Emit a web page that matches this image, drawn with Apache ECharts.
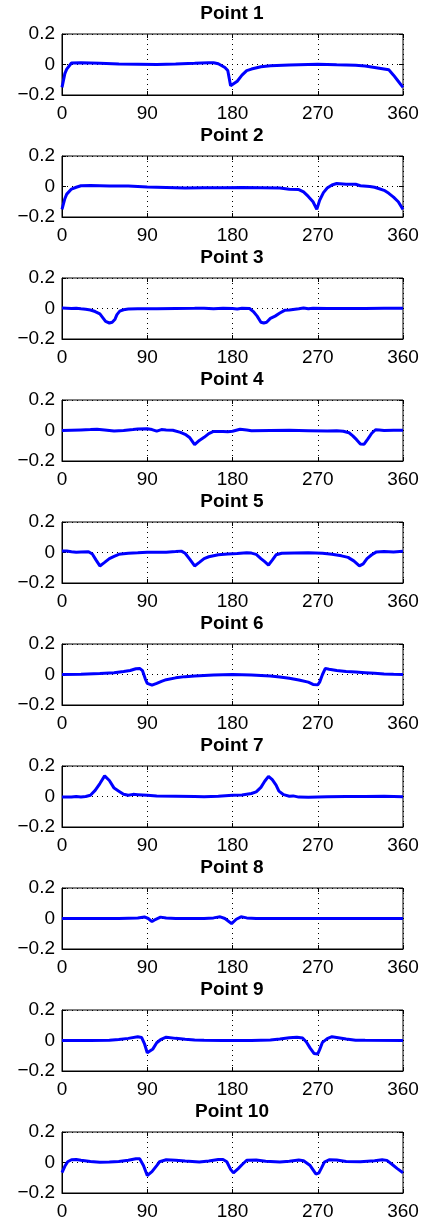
<!DOCTYPE html>
<html lang="en">
<head>
    <meta charset="UTF-8">
    <title>Point 1 - Point 10</title>
    <script src="https://cdn.jsdelivr.net/npm/echarts@6.0.0/dist/echarts.min.js"></script>
    <style>
        html, body { margin: 0; padding: 0; background: #fff; }
    </style>
</head>
<body>
<div id="main" style="width: 426px; height: 1222px;"></div>
<script>
    // [angle in degrees, value]
    var p1 = [[0,-0.15],[3,-0.06],[5,-0.03],[10,0.01],[20,0.012],[40,0.008],[60,0.003],[80,0.002],[100,0],[120,0.003],[140,0.008],[155,0.012],[160,0.012],[165,0.005],[172,-0.02],[175,-0.04],[178,-0.14],[180,-0.15],[185,-0.11],[190,-0.07],[195,-0.04],[200,-0.03],[210,-0.015],[220,-0.008],[240,-0.004],[260,0],[270,0.002],[290,-0.002],[310,-0.005],[320,-0.01],[330,-0.02],[340,-0.03],[345,-0.035],[350,-0.07],[355,-0.11],[360,-0.15]];
    var p2 = [[0,-0.15],[3,-0.08],[5,-0.05],[10,-0.017],[15,-0.005],[20,0.005],[30,0.007],[50,0.004],[70,0.003],[90,-0.003],[110,-0.006],[130,-0.01],[150,-0.008],[170,-0.008],[190,-0.006],[210,-0.008],[230,-0.01],[240,-0.018],[250,-0.02],[255,-0.035],[260,-0.065],[265,-0.1],[269,-0.15],[272,-0.09],[276,-0.04],[280,-0.01],[285,0.01],[290,0.02],[300,0.015],[310,0.015],[315,0.005],[325,0],[330,-0.005],[335,-0.015],[340,-0.025],[345,-0.045],[350,-0.07],[355,-0.1],[360,-0.15]];
    var p3 = [[0,0.003],[10,0],[15,0.002],[20,-0.002],[25,-0.005],[30,-0.01],[35,-0.02],[40,-0.035],[43,-0.06],[46,-0.085],[50,-0.095],[53,-0.09],[56,-0.07],[58,-0.04],[61,-0.017],[65,-0.008],[70,-0.004],[80,-0.002],[100,-0.001],[120,0],[140,0.001],[150,0.002],[160,-0.002],[170,0.002],[180,0],[185,-0.003],[190,0.002],[198,0],[202,-0.02],[206,-0.05],[210,-0.09],[213,-0.095],[216,-0.09],[220,-0.065],[225,-0.05],[230,-0.03],[235,-0.012],[240,-0.01],[250,-0.002],[255,0.003],[260,-0.002],[265,0.002],[280,0],[300,0],[320,0],[340,0.001],[360,0.002]];
    var p4 = [[0,0],[10,0.002],[20,0.004],[30,0.006],[37,0.008],[45,0.004],[55,-0.004],[65,0],[75,0.006],[80,0.01],[90,0.012],[95,0.006],[100,-0.004],[105,0.006],[110,0.004],[117,0.002],[125,-0.012],[130,-0.025],[135,-0.048],[140,-0.093],[145,-0.065],[150,-0.045],[155,-0.02],[160,-0.006],[170,-0.006],[175,-0.008],[180,-0.005],[188,0.008],[195,0.003],[200,-0.001],[220,0],[240,0.001],[260,-0.001],[280,-0.004],[290,-0.002],[297,-0.005],[303,-0.015],[307,-0.035],[311,-0.06],[315,-0.088],[319,-0.09],[323,-0.055],[327,-0.018],[331,0.005],[335,0.003],[340,0],[350,0.001],[360,0.002]];
    var p5 = [[0,0.01],[5,0.01],[10,0.005],[15,0.002],[20,0.004],[28,0.005],[32,-0.01],[36,-0.05],[40,-0.088],[45,-0.065],[50,-0.04],[55,-0.025],[60,-0.012],[70,-0.005],[80,-0.002],[90,0.002],[100,0.001],[110,0.002],[120,0.006],[126,0.009],[130,-0.005],[135,-0.045],[140,-0.088],[145,-0.065],[150,-0.04],[155,-0.028],[165,-0.015],[175,-0.01],[185,-0.007],[195,-0.002],[200,-0.004],[205,-0.012],[210,-0.04],[214,-0.06],[218,-0.082],[222,-0.05],[226,-0.015],[232,-0.005],[245,-0.003],[260,-0.002],[275,-0.005],[285,-0.012],[295,-0.022],[302,-0.032],[308,-0.055],[314,-0.088],[318,-0.075],[322,-0.04],[327,-0.015],[332,0.004],[340,0.006],[350,0.004],[360,0.008]];
    var p6 = [[0,0],[20,0.002],[40,0.006],[55,0.012],[65,0.02],[72,0.026],[78,0.038],[82,0.04],[85,0.025],[88,-0.03],[90,-0.058],[95,-0.07],[100,-0.058],[105,-0.045],[110,-0.034],[120,-0.022],[130,-0.014],[140,-0.01],[150,-0.006],[160,-0.003],[170,-0.001],[180,0],[190,-0.001],[200,-0.003],[210,-0.006],[220,-0.01],[230,-0.016],[240,-0.024],[250,-0.036],[260,-0.05],[265,-0.065],[270,-0.068],[272,-0.05],[275,0],[278,0.04],[282,0.035],[290,0.026],[300,0.02],[310,0.016],[320,0.012],[330,0.008],[340,0.004],[350,0.001],[360,0]];
    var p7 = [[0,-0.004],[10,-0.004],[15,0],[20,-0.003],[25,0],[30,0.008],[35,0.04],[40,0.085],[45,0.135],[50,0.105],[55,0.055],[60,0.035],[65,0.015],[70,0.008],[75,0.014],[80,0.012],[90,0.008],[100,0.004],[120,0.002],[140,0],[150,-0.002],[165,0.002],[180,0.008],[190,0.01],[200,0.02],[205,0.03],[210,0.06],[214,0.1],[218,0.132],[222,0.11],[226,0.075],[229,0.035],[234,0.012],[240,0.002],[244,0.004],[250,-0.004],[260,-0.005],[280,-0.002],[300,0],[320,0],[340,0.001],[360,-0.002]];
    var p8 = [[0,0],[60,0],[80,0.004],[87,0.01],[91,0],[95,-0.02],[99,-0.005],[104,0.009],[110,0.004],[120,0],[150,0],[160,0.004],[167,0.011],[172,0],[179,-0.034],[184,-0.005],[189,0.011],[195,0.004],[205,0],[360,0]];
    var p9 = [[0,0],[30,0],[50,0.001],[60,0.006],[70,0.014],[80,0.024],[84,0.02],[87,-0.02],[90,-0.08],[92,-0.088],[96,-0.055],[100,-0.015],[104,0.005],[110,0.022],[120,0.014],[130,0.008],[140,0.003],[150,0.001],[170,0],[200,0],[220,0.004],[230,0.01],[240,0.018],[248,0.022],[254,0.016],[258,-0.01],[262,-0.05],[266,-0.085],[270,-0.088],[272,-0.06],[275,-0.012],[280,0.012],[285,0.025],[290,0.02],[300,0.01],[310,0.002],[320,0.001],[360,0]];
    var p10 = [[0,-0.067],[3,-0.025],[6,0.005],[10,0.018],[15,0.02],[20,0.015],[30,0.006],[40,0.002],[50,0.003],[60,0.007],[70,0.015],[78,0.025],[82,0.024],[86,-0.02],[90,-0.085],[95,-0.06],[100,-0.02],[103,0.005],[110,0.018],[120,0.015],[130,0.01],[145,0.004],[155,0.01],[165,0.02],[170,0.02],[174,0.005],[178,-0.045],[181,-0.068],[186,-0.04],[190,-0.015],[195,0.015],[205,0.016],[215,0.008],[230,0.004],[240,0.008],[250,0.016],[255,0.012],[262,-0.02],[268,-0.075],[271,-0.07],[274,-0.035],[277,0.002],[282,0.018],[290,0.016],[300,0.006],[315,0.005],[330,0.012],[338,0.018],[343,0.014],[348,-0.01],[354,-0.04],[360,-0.067]];

    var titles = ['Point 1','Point 2','Point 3','Point 4','Point 5','Point 6','Point 7','Point 8','Point 9','Point 10'];
    var allData = [p1,p2,p3,p4,p5,p6,p7,p8,p9,p10];
    var xMin = 0, xMax = 360, xStep = 90;
    var yMin = -0.2, yMax = 0.2, yStep = 0.2;

    var myChart = echarts.init(document.getElementById('main'));
    var font = 'Liberation Sans';

    function dots(){
        return {color: '#000', type: [1, 4], width: 1};
    }
    function yFmt(v){
        if (Math.abs(v) < 1e-9) return '0';
        return v < 0 ? '\u2212' + Math.abs(v) : String(v);
    }

    var grids = [], xAxes = [], yAxes = [], lines = [], titleList = [];
    for (var i = 0; i < allData.length; i++) {
        var gridTop = 34 + 122 * i;
        grids.push({left: 62, right: 23, top: gridTop, height: 61, show: true,
            borderColor: '#000', borderWidth: 1});
        titleList.push({text: titles[i], left: 232, textAlign: 'center', top: gridTop - 30, padding: 0,
            textStyle: {fontFamily: font, fontSize: 19, fontWeight: 'bold', color: '#000'}});
        // bottom / left axes carry the labels and the dotted grid
        xAxes.push({type: 'value', gridIndex: i, min: xMin, max: xMax, interval: xStep,
            axisLine: {show: true, onZero: false, lineStyle: {color: '#000'}},
            axisTick: {inside: true, length: 4, lineStyle: {color: '#000'}},
            axisLabel: {color: '#000', fontFamily: font, fontSize: 19, margin: 9},
            splitLine: {show: true, lineStyle: dots()}});
        yAxes.push({type: 'value', gridIndex: i, min: yMin, max: yMax, interval: yStep,
            axisLine: {show: true, onZero: false, lineStyle: {color: '#000'}},
            axisTick: {show: true, inside: true, length: 4, lineStyle: {color: '#000'}},
            axisLabel: {color: '#000', fontFamily: font, fontSize: 19, margin: 7, formatter: yFmt},
            splitLine: {show: true, lineStyle: dots()}});
        // top / right axes only for the inward tick marks
        xAxes.push({type: 'value', gridIndex: i, position: 'top', min: xMin, max: xMax, interval: xStep,
            axisLine: {show: false, onZero: false},
            axisTick: {show: true, inside: true, length: 4, lineStyle: {color: '#000'}},
            axisLabel: {show: false}, splitLine: {show: false}});
        yAxes.push({type: 'value', gridIndex: i, position: 'right', min: yMin, max: yMax, interval: yStep,
            axisLine: {show: false, onZero: false},
            axisTick: {show: true, inside: true, length: 4, lineStyle: {color: '#000'}},
            axisLabel: {show: false}, splitLine: {show: false}});
        lines.push({type: 'line', xAxisIndex: 2 * i, yAxisIndex: 2 * i,
            data: allData[i], showSymbol: false, symbol: 'none', z: 5,
            lineStyle: {color: '#0000ff', width: 3}});
    }

    var option = {
        backgroundColor: '#fff',
        animation: false,
        title: titleList,
        grid: grids,
        xAxis: xAxes,
        yAxis: yAxes,
        series: lines
    };
    myChart.setOption(option);
</script>
</body>
</html>
